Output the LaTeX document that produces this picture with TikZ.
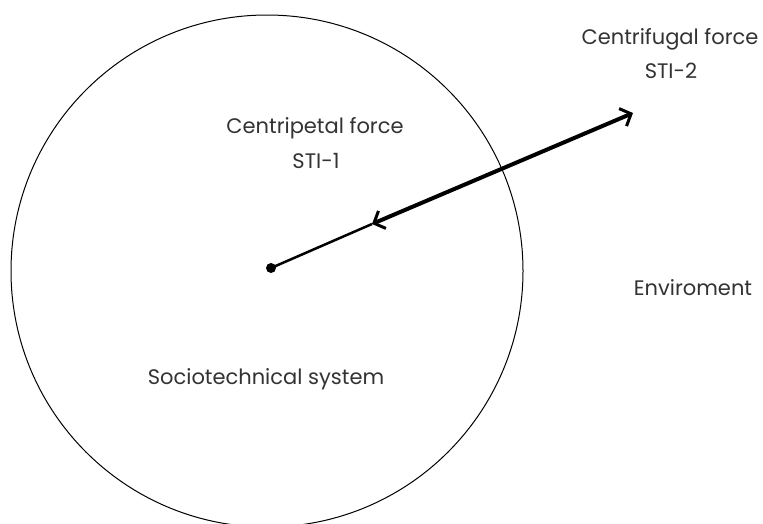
\documentclass[tikz,border=0pt]{standalone}
\usepackage{fontspec}
\setmainfont{Poppins}
\usetikzlibrary{arrows.meta}
\tikzset{
  lbl/.style={font=\fontsize{21}{25}\selectfont, text=black!80, align=center, inner sep=0pt},
  thickarrow/.style={line width=4pt, {Straight Barb[length=9pt,width=19pt,line width=3pt]}-{Straight Barb[length=9pt,width=19pt,line width=3pt]}},
  thinline/.style={line width=2.5pt}
}
\begin{document}
\begin{tikzpicture}[x=1pt,y=-1pt]
\useasboundingbox (0,0) rectangle (763,523);
\fill[white] (0,0) rectangle (763,523);
\node[draw, circle, minimum size=512pt, line width=1pt, inner sep=0pt] (sys) at (267,271) {};
\node[lbl] (cp) at (315,128) {Centripetal force};
\node[lbl] (s1) at (316,161) {STI-1};
\node[lbl] (cf) at (670,39) {Centrifugal force};
\node[lbl] (s2) at (671,71) {STI-2};
\node[lbl] (env) at (693,288) {Enviroment};
\node[lbl] (st) at (266,379) {Sociotechnical system};
\coordinate (c) at (271,268);
\coordinate (m) at (372,224);
\coordinate (t) at (633,113);
\draw[thinline] (c) -- (m);
\draw[thickarrow] (m) -- (t);
\fill (c) circle (5pt);
\end{tikzpicture}
\end{document}
